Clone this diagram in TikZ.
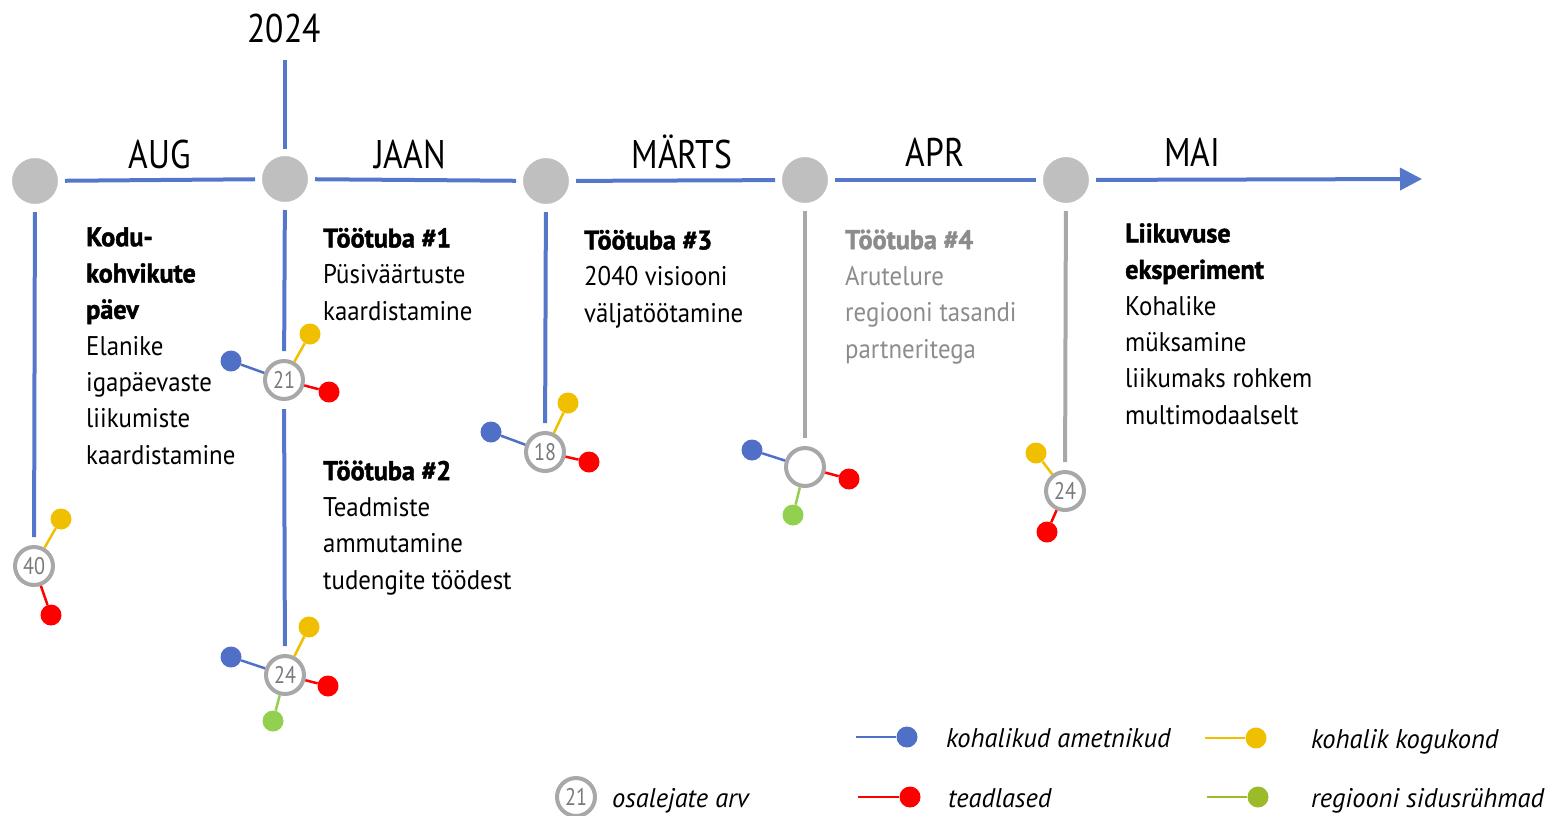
\documentclass[tikz,border=0pt]{standalone}
\usepackage{fontspec}
\setmainfont{PT Sans}[FakeStretch=0.84]
\newfontfamily\bodyfont{PT Sans}[FakeStretch=0.92, BoldFeatures={FakeBold=1.6,FakeStretch=0.97}]
\newfontfamily\legfont{PT Sans}[FakeStretch=0.98]
\usetikzlibrary{arrows.meta}
\definecolor{tlblue}{HTML}{5577CA}
\definecolor{dblue}{HTML}{4F70C6}
\definecolor{dyellow}{HTML}{F0C000}
\definecolor{dred}{HTML}{FF0000}
\definecolor{dgreen}{HTML}{92D050}
\definecolor{lgreen}{HTML}{9BBB2A}
\definecolor{hubgray}{HTML}{BFBFBF}
\definecolor{bubgray}{HTML}{A8A8A8}
\definecolor{numgray}{HTML}{7A7A7A}
\definecolor{txtgray}{HTML}{8C8C8C}
\definecolor{vgray}{HTML}{A8A8A8}
\begin{document}
\begin{tikzpicture}[x=1pt,y=-1pt,
  tl/.style={line width=4pt, draw=tlblue},
  tlg/.style={line width=4pt, draw=vgray},
  hub/.style={circle, fill=hubgray, draw=white, line width=4pt, minimum size=50pt, inner sep=0pt},
  bub/.style={circle, fill=white, draw=bubgray, line width=4pt, minimum size=38pt, inner sep=0pt, font=\fontsize{24}{24}\selectfont, text=numgray},
  dot/.style={circle, minimum size=21pt, inner sep=0pt, fill=#1},
  link/.style={line width=2.5pt, draw=#1},
  month/.style={font=\fontsize{40}{40}\selectfont, anchor=base, inner sep=0pt},
  body/.style={font=\bodyfont\fontsize{27}{36.3}\selectfont, align=left, anchor=base west, inner sep=0pt},
  leg/.style={font=\legfont\fontsize{27}{27}\itshape\selectfont, anchor=base west, inner sep=0pt}
]
\useasboundingbox (0,0) rectangle (1548,815);

% hubs
\node[hub] (h1) at (35,181) {};
\node[hub] (h2) at (285,179) {};
\node[hub] (h3) at (546,181) {};
\node[hub] (h4) at (805,180) {};
\node[hub] (h5) at (1066,180) {};
\coordinate (aend) at (1422,179);
\coordinate (ytop) at (285,60);

% main timeline
\draw[tl, shorten <=3pt, shorten >=3pt] (h1) -- (h2);
\draw[tl, shorten <=3pt, shorten >=3pt] (h2) -- (h3);
\draw[tl, shorten <=3pt, shorten >=3pt] (h3) -- (h4);
\draw[tl, shorten <=3pt, shorten >=3pt] (h4) -- (h5);
\draw[tl, shorten <=3pt, -{Triangle[length=22pt,width=22pt]}] (h5) -- (aend);
\draw[tl, shorten >=3pt] (ytop) -- (h2);

% year & months
\node[month] (y2024) at (284,42) {2024};
\node[month] (mAUG) at (160,168) {AUG};
\node[month] (mJAAN) at (410,168) {JAAN};
\node[month] (mMAR) at (682,168) {MÄRTS};
\node[month] (mAPR) at (935,166) {APR};
\node[month] (mMAI) at (1192,166) {MAI};

% bubbles
\node[bub] (b40) at (34,566) {40};
\node[bub] (b21) at (284,380) {21};
\node[bub] (b24a) at (285,675) {24};
\node[bub] (b18) at (545,452) {18};
\node[bub] (bx) at (805,467) {};
\node[bub] (b24b) at (1065,491) {24};

% vertical lines
\draw[tl, shorten <=4pt, shorten >=8pt] (h1) -- (b40);
\draw[tl, shorten <=4pt, shorten >=8pt] (h2) -- (b21);
\draw[tl, shorten <=8pt, shorten >=8pt] (b21) -- (b24a);
\draw[tl, shorten <=4pt, shorten >=8pt] (h3) -- (b18);
\draw[tlg, shorten <=4pt, shorten >=8pt] (h4) -- (bx);
\draw[tlg, shorten <=4pt, shorten >=8pt] (h5) -- (b24b);

% dots
\node[dot=dyellow] (d40y) at (61,519) {};
\node[dot=dred] (d40r) at (51,615) {};
\node[dot=dblue] (d21b) at (231,361) {};
\node[dot=dyellow] (d21y) at (310,334) {};
\node[dot=dred] (d21r) at (329,392) {};
\node[dot=dblue] (d24b) at (231,657) {};
\node[dot=dyellow] (d24y) at (309,627) {};
\node[dot=dred] (d24r) at (328,686) {};
\node[dot=dgreen] (d24g) at (273,721) {};
\node[dot=dblue] (d18b) at (491,432) {};
\node[dot=dyellow] (d18y) at (568,403) {};
\node[dot=dred] (d18r) at (589,462) {};
\node[dot=dblue] (dxb) at (752,450) {};
\node[dot=dred] (dxr) at (849,479) {};
\node[dot=dgreen] (dxg) at (793,515) {};
\node[dot=dyellow] (d24by) at (1036,453) {};
\node[dot=dred] (d24br) at (1047,532) {};

% links
\draw[link=dyellow] (b40) -- (d40y);
\draw[link=dred] (b40) -- (d40r);
\draw[link=dblue] (b21) -- (d21b);
\draw[link=dyellow] (b21) -- (d21y);
\draw[link=dred] (b21) -- (d21r);
\draw[link=dblue] (b24a) -- (d24b);
\draw[link=dyellow] (b24a) -- (d24y);
\draw[link=dred] (b24a) -- (d24r);
\draw[link=dgreen] (b24a) -- (d24g);
\draw[link=dblue] (b18) -- (d18b);
\draw[link=dyellow] (b18) -- (d18y);
\draw[link=dred] (b18) -- (d18r);
\draw[link=dblue] (bx) -- (dxb);
\draw[link=dred] (bx) -- (dxr);
\draw[link=dgreen] (bx) -- (dxg);
\draw[link=dyellow] (b24b) -- (d24by);
\draw[link=dred] (b24b) -- (d24br);

% texts (anchor at baseline of the last line)
\node[body] (t1) at (86,464) {\textbf{Kodu-}\\\textbf{kohvikute}\\\textbf{päev}\\Elanike\\igapäevaste\\liikumiste\\kaardistamine};
\node[body] (t2) at (323,320) {\textbf{Töötuba \#1}\\Püsiväärtuste\\kaardistamine};
\node[body] (t3) at (323,589) {\textbf{Töötuba \#2}\\Teadmiste\\ammutamine\\tudengite töödest};
\node[body] (t4) at (584,322) {\textbf{Töötuba \#3}\\2040 visiooni\\väljatöötamine};
\node[body, text=txtgray] (t5) at (845,358) {\textbf{Töötuba \#4}\\Arutelure\\regiooni tasandi\\partneritega};
\node[body] (t6) at (1125,424) {\textbf{Liikuvuse}\\\textbf{eksperiment}\\Kohalike\\müksamine\\liikumaks rohkem\\multimodaalselt};

% legend
\coordinate (lb) at (856,737);
\node[dot=dblue] (ldb) at (907,737) {};
\draw[link=dblue, line width=2pt] (lb) -- (ldb);
\node[leg] (ltb) at (946,747) {kohalikud ametnikud};
\coordinate (ly) at (1205,738);
\node[dot=dyellow] (ldy) at (1256,738) {};
\draw[link=dyellow, line width=2pt] (ly) -- (ldy);
\node[leg] (lty) at (1311,748) {kohalik kogukond};
\coordinate (lr) at (858,797);
\node[dot=dred] (ldr) at (910,797) {};
\draw[link=dred, line width=2pt] (lr) -- (ldr);
\node[leg] (ltr) at (948,807) {teadlased};
\coordinate (lg) at (1207,797);
\node[dot=lgreen] (ldg) at (1258,797) {};
\draw[link=lgreen, line width=2pt] (lg) -- (ldg);
\node[leg] (ltg) at (1311,807) {regiooni sidusrühmad};
\node[bub] (lbub) at (576,797) {21};
\node[leg] (ltbub) at (612,807) {osalejate arv};
\end{tikzpicture}
\end{document}
